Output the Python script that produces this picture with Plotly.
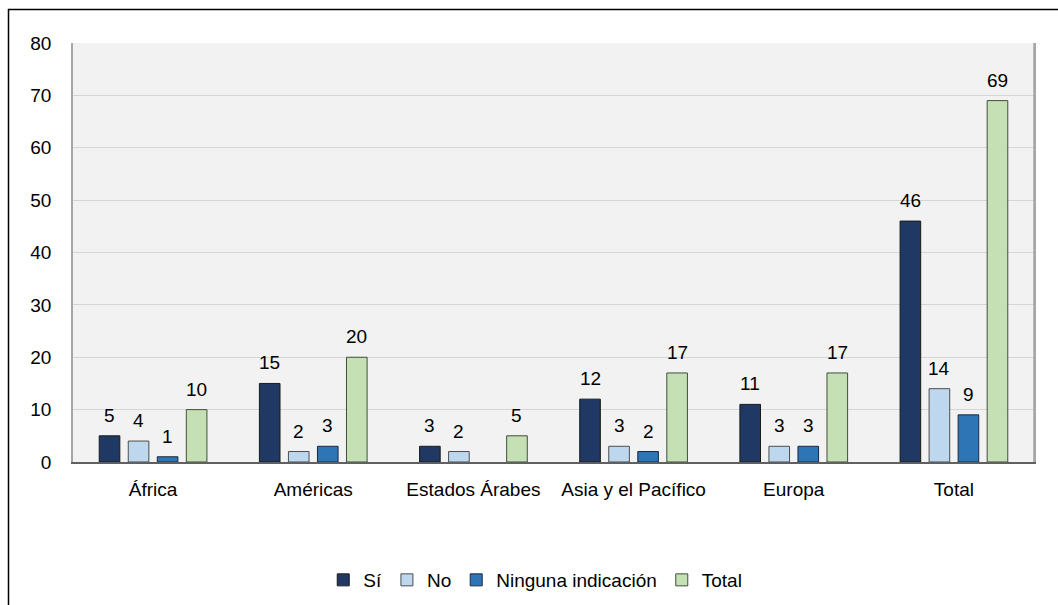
import plotly.graph_objects as go

categories = ["África", "Américas", "Estados Árabes", "Asia y el Pacífico", "Europa", "Total"]
series_names = ["Sí", "No", "Ninguna indicación", "Total"]
si = [5, 15, 3, 12, 11, 46]
no = [4, 2, 2, 3, 3, 14]
ninguna = [1, 3, None, 2, 3, 9]
total = [10, 20, 5, 17, 17, 69]
y_ticks = [0, 10, 20, 30, 40, 50, 60, 70, 80]

series_values = [si, no, ninguna, total]
colors = ["#1f3864", "#bdd7ee", "#2e75b6", "#c5e0b4"]
outlines = ["#1a1a1a", "#4d4d4d", "#1a2a40", "#3f4f3a"]
FONT = "Liberation Sans, Arial, sans-serif"
FS = 19

fig = go.Figure()
for name, vals, col, oc in zip(series_names, series_values, colors, outlines):
    fig.add_trace(go.Bar(
        name=name, x=categories, y=vals,
        marker=dict(color=col, line=dict(color=oc, width=1)),
    ))

# value labels
slot_px = 29
offsets = [-1.5 * slot_px, -0.5 * slot_px, 0.5 * slot_px, 1.5 * slot_px]
annotations = []
for vals, off in zip(series_values, offsets):
    for c, v in zip(categories, vals):
        if v is None:
            continue
        annotations.append(dict(
            x=c, y=v, xref="x", yref="y", text=str(v), showarrow=False,
            xanchor="center", yanchor="bottom", xshift=off, yshift=8,
            font=dict(family=FONT, size=FS, color="#000000"),
        ))

W, H = 1058, 605
L, R, T, B = 73, 24, 43, 143
pw, ph = W - L - R, H - T - B
def px_x(p):
    return (p - L) / pw
def px_y(p):
    return (H - B - p) / ph

shapes = [
    dict(type="line", xref="paper", yref="paper", x0=px_x(8), x1=px_x(W + 2), y0=px_y(9.5), y1=px_y(9.5),
         line=dict(color="#000000", width=1.5)),
    dict(type="line", xref="paper", yref="paper", x0=px_x(8.5), x1=px_x(8.5), y0=px_y(9), y1=px_y(H + 2),
         line=dict(color="#000000", width=1.5)),
    dict(type="line", xref="paper", yref="paper", x0=1, x1=1, y0=0, y1=1,
         line=dict(color="#a6a6a6", width=1.5)),
]

fig.update_layout(
    width=W, height=H,
    margin=dict(l=L, r=R, t=T, b=B, autoexpand=False),
    paper_bgcolor="#ffffff",
    plot_bgcolor="#f2f2f2",
    barmode="group",
    bargap=0.275,
    bargroupgap=0.29,
    font=dict(family=FONT, size=FS, color="#000000"),
    showlegend=True,
    legend=dict(orientation="h", x=0.481, xanchor="center", y=px_y(580), yanchor="middle",
                font=dict(family=FONT, size=FS), itemwidth=30, traceorder="normal"),
    annotations=annotations,
    shapes=shapes,
)
fig.update_xaxes(
    showline=True, linecolor="#606060", linewidth=1.5, mirror=False, automargin=False,
    ticks="", tickfont=dict(family=FONT, size=FS), ticklabelstandoff=9,
)
fig.update_yaxes(
    range=[0, 80], tickvals=y_ticks, showgrid=True, gridcolor="#d5d5d5", gridwidth=1,
    showline=True, linecolor="#a6a6a6", linewidth=1.5, mirror=True, automargin=False,
    zeroline=False, ticks="", tickfont=dict(family=FONT, size=FS), ticklabelstandoff=16,
)

fig.write_html(
    "out.html",
    config={"displayModeBar": False},
    post_script="document.body.style.margin='0';document.body.style.overflow='hidden';",
)
